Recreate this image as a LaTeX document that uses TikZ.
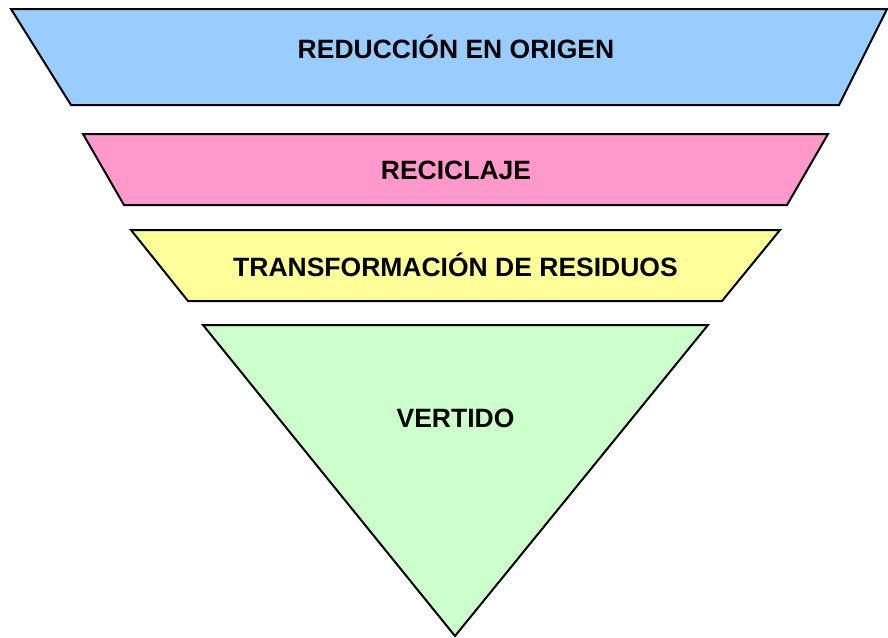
\documentclass[tikz,border=0pt]{standalone}
\usepackage{fontspec}
\setmainfont{Liberation Sans}
\definecolor{cblue}{HTML}{99CCFF}
\definecolor{cpink}{HTML}{FF99CC}
\definecolor{cyellow}{HTML}{FFFF99}
\definecolor{cgreen}{HTML}{CCFFCC}
\begin{document}
\begin{tikzpicture}[x=1pt,y=-1pt,
  layer/.style={draw=black,line width=2pt,line join=miter},
  lbl/.style={font=\fontsize{26.5}{30}\selectfont\bfseries,inner sep=0pt}]
\useasboundingbox (0,0) rectangle (888,637);
\path[layer,fill=cblue] (11,9) -- (887,9) -- (839,105) -- (71,105) -- cycle;
\path[layer,fill=cpink] (83,134) -- (828,134) -- (787,205) -- (124,205) -- cycle;
\path[layer,fill=cyellow] (131,230) -- (780,230) -- (722,301) -- (188,301) -- cycle;
\path[layer,fill=cgreen] (203,325) -- (708,325) -- (455,636) -- cycle;
\node[lbl] (reduccion) at (456,47) {REDUCCIÓN EN ORIGEN};
\node[lbl] (reciclaje) at (456,170) {RECICLAJE};
\node[lbl] (transformacion) at (455.5,265) {TRANSFORMACIÓN DE RESIDUOS};
\node[lbl] (vertido) at (455.5,418) {VERTIDO};
\end{tikzpicture}
\end{document}
